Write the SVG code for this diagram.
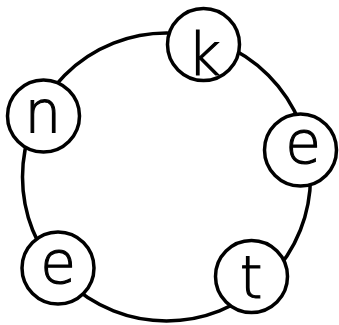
<svg xmlns="http://www.w3.org/2000/svg" width="339" height="325" viewBox="0 0 339 325">
<style>
.ring{fill:none;stroke:#000;stroke-width:3.5}
.node circle{fill:#fff;stroke:#000;stroke-width:3.5}
.node text{font-family:"DejaVu Sans","Liberation Sans",sans-serif;font-weight:200;font-size:58px;fill:#000;stroke:#000;stroke-width:1.1;text-anchor:middle}
</style>
<rect width="339" height="325" fill="#fff"/>
<g id="connectors">
<circle class="ring" cx="166.5" cy="177" r="144"/>
</g>
<g id="node-k" class="node"><circle cx="203.5" cy="44.5" r="36"/><text x="204" y="75">k</text></g>
<g id="node-e1" class="node"><circle cx="300.5" cy="150" r="36"/><text x="303" y="163">e</text></g>
<g id="node-t" class="node"><circle cx="251.5" cy="276.5" r="36"/><text x="251" y="298">t</text></g>
<g id="node-e2" class="node"><circle cx="58" cy="268" r="36"/><text x="58" y="283">e</text></g>
<g id="node-n" class="node"><circle cx="43.5" cy="116" r="36"/><text x="43" y="133">n</text></g>
</svg>
